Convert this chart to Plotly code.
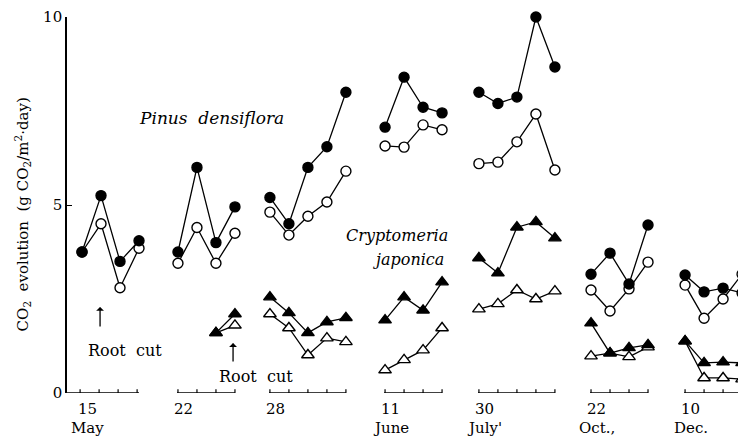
import plotly.graph_objects as go

# ---------------- data ----------------
day_labels = ["15", "22", "28", "11", "30", "22", "10"]
month_labels = ["May", "", "", "June", "July'", "Oct.,", "Dec."]

pinus_filled = [
    [3.75, 5.25, 3.5, 4.05],
    [3.75, 6.0, 4.0, 4.95],
    [5.2, 4.5, 6.0, 6.55, 8.0],
    [7.07, 8.4, 7.6, 7.45],
    [8.0, 7.7, 7.87, 10.0, 8.67],
    [3.16, 3.72, 2.9, 4.47],
    [3.14, 2.69, 2.79, 2.66],
]
pinus_open = [
    [3.75, 4.5, 2.8, 3.85],
    [3.45, 4.4, 3.45, 4.25],
    [4.81, 4.2, 4.7, 5.08, 5.9],
    [6.57, 6.54, 7.13, 7.0],
    [6.1, 6.14, 6.68, 7.42, 5.93],
    [2.74, 2.18, 2.77, 3.48],
    [2.87, 1.99, 2.5, 3.16],
]
crypto_filled = [
    [None, None, None, None],
    [None, None, 1.6, 2.1],
    [2.55, 2.13, 1.6, 1.89, 2.0],
    [1.94, 2.55, 2.2, 2.95],
    [3.59, 3.19, 4.41, 4.55, 4.12],
    [1.86, 1.06, 1.2, 1.28],
    [1.38, 0.8, 0.82, 0.8],
]
crypto_open = [
    [None, None, None, None],
    [None, None, 1.6, 1.8],
    [2.1, 1.73, 1.01, 1.46, 1.36],
    [0.61, 0.88, 1.14, 1.73],
    [2.23, 2.37, 2.74, 2.5, 2.71],
    [0.98, 1.06, 0.96, 1.22],
    [1.38, 0.4, 0.4, 0.37],
]

# ---------------- layout constants ----------------
group_start = [0.79, 5.84, 10.68, 16.74, 21.68, 27.58, 32.53]
n_points = [len(g) for g in pinus_filled]
FONT = "DejaVu Serif"
PLOT_H = 376.0  # px height of plot area


def flatten(groups):
    xs, ys = [], []
    for gi, g in enumerate(groups):
        for i, v in enumerate(g):
            xs.append(group_start[gi] + i)
            ys.append(v)
        xs.append(None)
        ys.append(None)
    return xs, ys


fig = go.Figure()


def add_series(groups, symbol, fill):
    xs, ys = flatten(groups)
    fig.add_trace(go.Scatter(
        x=xs, y=ys, mode="lines+markers",
        line=dict(color="black", width=1.3),
        marker=dict(symbol=symbol, size=10 if "circle" in symbol else 11,
                    color=fill, line=dict(color="black", width=1.4)),
        cliponaxis=False, connectgaps=False, showlegend=False,
        hoverinfo="skip"))


add_series(crypto_open, "triangle-up", "white")
add_series(crypto_filled, "triangle-up", "black")
add_series(pinus_open, "circle", "white")
add_series(pinus_filled, "circle", "black")

# x-axis segments with ticks
shapes = []
for gi, s in enumerate(group_start):
    n = n_points[gi]
    x0 = 0 if gi == 0 else s - 0.05
    shapes.append(dict(type="line", xref="x", yref="y", x0=x0, x1=s + n - 1,
                       y0=0, y1=0, line=dict(color="black", width=1.6)))
    for i in range(n):
        xt = s + i - (0.1 if gi == 0 else 0)
        shapes.append(dict(type="line", xref="x", yref="y", x0=xt, x1=xt,
                           y0=0, y1=0.1, line=dict(color="black", width=1.2)))

annotations = []
for gi, s in enumerate(group_start):
    annotations.append(dict(x=s + 0.3, y=-16 / PLOT_H, xref="x", yref="paper",
                            xanchor="center", yanchor="middle",
                            text=day_labels[gi], showarrow=False,
                            font=dict(family=FONT, size=15, color="black")))
    if month_labels[gi]:
        annotations.append(dict(x=s + 0.3, y=-35 / PLOT_H, xref="x", yref="paper",
                                xanchor="center", yanchor="middle",
                                text=month_labels[gi], showarrow=False,
                                font=dict(family=FONT, size=15, color="black")))

annotations += [
    dict(x=7.63, y=7.31, xref="x", yref="y", text="<i>Pinus  densiflora</i>",
         showarrow=False, font=dict(family=FONT, size=17, color="black")),
    dict(x=17.37, y=4.2, xref="x", yref="y", text="<i>Cryptomeria</i>",
         showarrow=False, font=dict(family=FONT, size=16, color="black")),
    dict(x=17.95, y=3.54, xref="x", yref="y", text="<i>japonica</i>",
         showarrow=False, font=dict(family=FONT, size=16, color="black")),
    dict(x=3.05, y=1.14, xref="x", yref="y", text="Root  cut",
         showarrow=False, font=dict(family=FONT, size=16, color="black")),
    dict(x=9.95, y=0.43, xref="x", yref="y", text="Root  cut",
         showarrow=False, font=dict(family=FONT, size=16, color="black")),
    dict(x=1.74, y=2.29, ax=1.74, ay=1.73, xref="x", yref="y",
         axref="x", ayref="y", text="", showarrow=True, arrowhead=1,
         arrowsize=1, arrowwidth=1.3, arrowcolor="black"),
    dict(x=8.74, y=1.33, ax=8.74, ay=0.8, xref="x", yref="y",
         axref="x", ayref="y", text="", showarrow=True, arrowhead=1,
         arrowsize=1, arrowwidth=1.3, arrowcolor="black"),
    dict(x=-45 / 679, y=0.475, xref="paper", yref="paper", textangle=-90,
         xanchor="center", yanchor="middle",
         text="CO<sub>2</sub>  evolution  (g CO<sub>2</sub>/m<sup>2</sup>·day)",
         showarrow=False, font=dict(family=FONT, size=15, color="black")),
]

# page body has an 8px margin: figure is drawn at (8, 8) in the window
fig.update_layout(
    width=738, height=432,
    margin=dict(l=59, r=0, t=9, b=47),
    paper_bgcolor="white", plot_bgcolor="white",
    font=dict(family=FONT, color="black"),
    shapes=shapes, annotations=annotations,
    xaxis=dict(range=[0, 679 / 19], visible=False, showgrid=False,
               zeroline=False),
    yaxis=dict(range=[0, 10], showgrid=False, zeroline=False,
               showline=True, linecolor="black", linewidth=1.6,
               ticks="inside", ticklen=5, tickwidth=1.3, tickcolor="black",
               tickvals=[0, 5, 10], ticktext=["0", "5", "10"],
               ticklabeloverflow="allow",
               tickfont=dict(family=FONT, size=15, color="black")),
)

fig.write_html("out.html")
